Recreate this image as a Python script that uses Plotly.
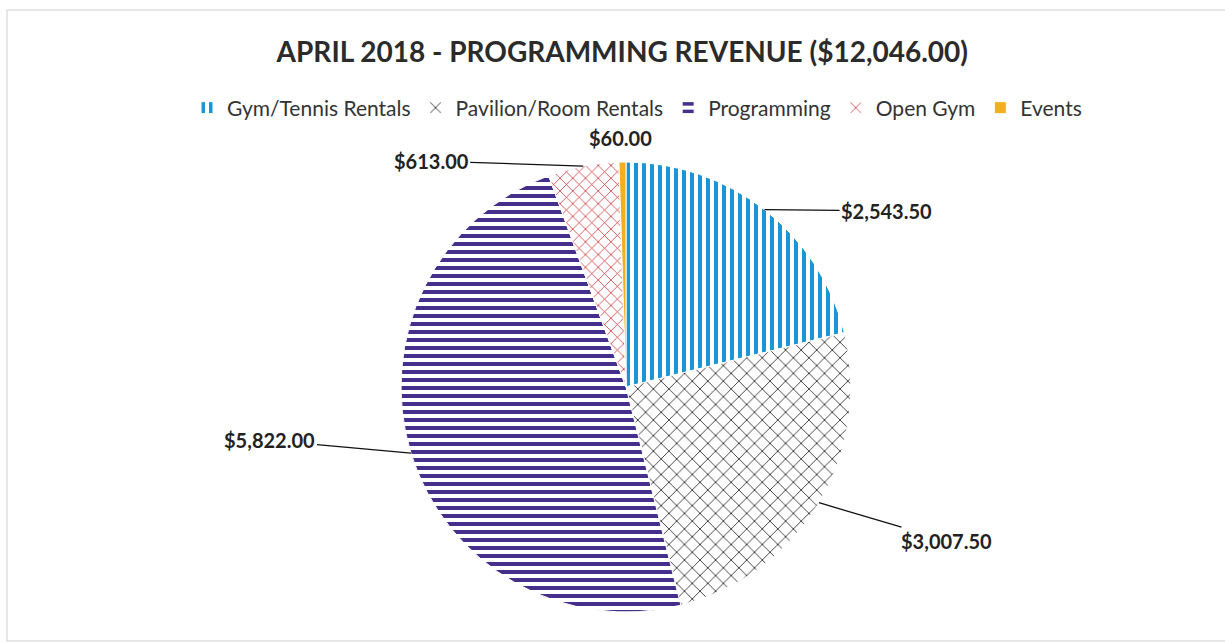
import math
import plotly.graph_objects as go

categories = ["Gym/Tennis Rentals", "Pavilion/Room Rentals", "Programming", "Open Gym", "Events"]
values = [2543.50, 3007.50, 5822.00, 613.00, 60.00]
value_labels = ["$2,543.50", "$3,007.50", "$5,822.00", "$613.00", "$60.00"]
title_text = "APRIL 2018 - PROGRAMMING REVENUE ($12,046.00)"

# styling
fg_colors = ["#1b96d4", "#1a1a1a", "#43308c", "#c8282e", "#f2b01e"]
shapes = ["|", "x", "-", "x", ""]
sizes = [8, 11, 8, 9, 8]
solid = [0.5, 0.14, 0.5, 0.16, 1.0]

W, H = 1225, 643
CX, CY, R = 626, 387, 225  # pie centre / radius in pixels
# label offsets (pixels) from the slice's outer mid-point
offsets = [(122, 1), (128, 38), (-141, -13), (-152, -5), (-2, -24)]
arrows = [True, True, True, True, False]
FONT = "Lato, Open Sans, sans-serif"

fig = go.Figure()
fig.add_trace(go.Pie(
    labels=categories,
    values=values,
    sort=False,
    direction="clockwise",
    rotation=0,
    textinfo="none",
    hoverinfo="label+value",
    marker=dict(
        colors=["white"] * 4 + [fg_colors[4]],
        line=dict(color="white", width=1),
        pattern=dict(
            shape=shapes,
            fgcolor=fg_colors,
            bgcolor=["white"] * 4 + [fg_colors[4]],
            size=sizes,
            solidity=solid,
            fillmode="replace",
            fgopacity=1,
        ),
    ),
    domain=dict(x=[(CX - R) / W, (CX + R) / W], y=[(H - CY - R) / H, (H - CY + R) / H]),
))

total = sum(values)
annotations = []
cum = 0.0
for i, v in enumerate(values):
    mid = (cum + v / 2) / total * 2 * math.pi
    cum += v
    px = CX + R * math.sin(mid)
    py = CY - R * math.cos(mid)
    dx, dy = offsets[i]
    if arrows[i]:
        annotations.append(dict(
            x=px / W, y=1 - py / H, xref="paper", yref="paper",
            text="<b>%s</b>" % value_labels[i], showarrow=True,
            ax=dx, ay=dy, axref="pixel", ayref="pixel",
            arrowhead=0, arrowwidth=1.3, arrowcolor="#111111", standoff=0,
            font=dict(family=FONT, size=20, color="#222222"),
        ))
    else:
        annotations.append(dict(
            x=(px + dx) / W, y=1 - (py + dy) / H, xref="paper", yref="paper",
            xanchor="center", yanchor="middle",
            text="<b>%s</b>" % value_labels[i], showarrow=False,
            font=dict(family=FONT, size=20, color="#222222"),
        ))

border = dict(color="#cfcfcf", width=1)
fig.update_layout(
    width=W, height=H,
    margin=dict(l=0, r=0, t=0, b=0),
    paper_bgcolor="white",
    title=dict(
        text="<b>%s</b>" % title_text,
        x=0.508, xanchor="center", y=1 - 52 / H, yanchor="middle",
        font=dict(family=FONT, size=28, color="#2b2b2b"),
    ),
    legend=dict(
        orientation="h", x=0.52, xanchor="center", y=1 - 108 / H, yanchor="middle",
        font=dict(family=FONT, size=21, color="#333333"),
        itemwidth=30, traceorder="normal",
    ),
    annotations=annotations,
    shapes=[
        dict(type="line", xref="paper", yref="paper", x0=7 / W, x1=1, y0=1 - 10 / H, y1=1 - 10 / H, line=border),
        dict(type="line", xref="paper", yref="paper", x0=7 / W, x1=1, y0=1 - 641 / H, y1=1 - 641 / H, line=border),
        dict(type="line", xref="paper", yref="paper", x0=7 / W, x1=7 / W, y0=1 - 641 / H, y1=1 - 10 / H, line=border),
    ],
)

fig.write_html(
    "out.html",
    config={"displayModeBar": False},
    post_script="document.body.style.margin='0';document.body.style.overflow='hidden';",
)
